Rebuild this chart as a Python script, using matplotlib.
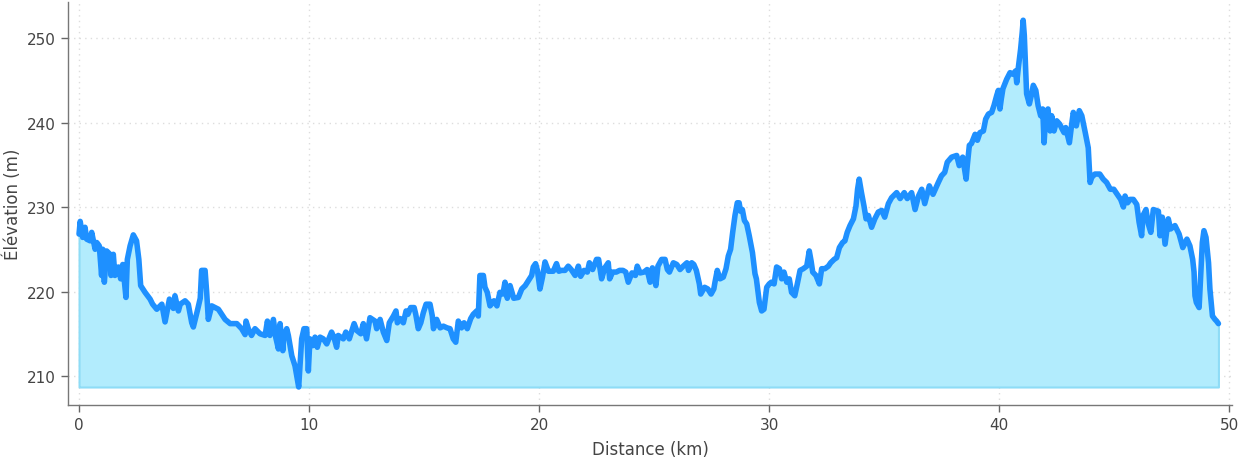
import matplotlib
matplotlib.use("Agg")
import matplotlib.pyplot as plt
import numpy as np

distance_km = [
    0.0, 0.05, 0.1, 0.16, 0.26, 0.33, 0.48, 0.55, 0.7, 0.77, 0.88, 0.98, 1.03, 1.1, 1.2, 1.35, 1.39, 1.49, 1.56,
    1.71, 1.81, 1.9, 2.04, 2.1, 2.22, 2.36, 2.5, 2.6, 2.68, 2.87, 3.09, 3.2, 3.38, 3.6, 3.74, 3.93, 4.1, 4.17,
    4.32, 4.4, 4.61, 4.75, 4.9, 4.97, 5.16, 5.27, 5.33, 5.48, 5.55, 5.62, 5.77, 6.06, 6.35, 6.57, 6.86, 7.07,
    7.22, 7.26, 7.36, 7.5, 7.65, 7.87, 8.09, 8.19, 8.3, 8.45, 8.55, 8.67, 8.74, 8.86, 8.9, 9.03, 9.1, 9.25,
    9.39, 9.55, 9.68, 9.78, 9.9, 9.97, 10.04, 10.16, 10.26, 10.36, 10.48, 10.62, 10.77, 10.98, 11.08, 11.2,
    11.27, 11.49, 11.6, 11.75, 11.96, 12.07, 12.25, 12.36, 12.5, 12.65, 12.87, 12.94, 13.09, 13.23, 13.38,
    13.49, 13.67, 13.78, 13.84, 13.96, 14.1, 14.22, 14.3, 14.42, 14.57, 14.64, 14.75, 14.86, 14.97, 15.09,
    15.26, 15.36, 15.41, 15.55, 15.7, 15.84, 16.0, 16.13, 16.27, 16.38, 16.49, 16.63, 16.74, 16.88, 17.03,
    17.14, 17.29, 17.36, 17.43, 17.58, 17.65, 17.75, 17.87, 18.04, 18.17, 18.3, 18.43, 18.52, 18.62, 18.74,
    18.9, 19.1, 19.25, 19.4, 19.54, 19.68, 19.75, 19.85, 19.93, 20.04, 20.15, 20.26, 20.41, 20.62, 20.76,
    20.86, 20.98, 21.13, 21.27, 21.4, 21.57, 21.71, 21.81, 21.96, 22.1, 22.19, 22.33, 22.5, 22.59, 22.72,
    22.86, 23.01, 23.07, 23.2, 23.36, 23.5, 23.65, 23.77, 23.88, 24.04, 24.19, 24.27, 24.4, 24.56, 24.7,
    24.83, 24.93, 25.08, 25.17, 25.33, 25.48, 25.58, 25.67, 25.84, 25.99, 26.13, 26.27, 26.43, 26.5, 26.64,
    26.73, 26.84, 26.97, 27.03, 27.2, 27.34, 27.48, 27.6, 27.65, 27.75, 27.87, 28.01, 28.13, 28.23, 28.33,
    28.42, 28.52, 28.62, 28.7, 28.76, 28.84, 28.93, 29.03, 29.14, 29.28, 29.39, 29.45, 29.58, 29.68, 29.78,
    29.9, 30.01, 30.1, 30.22, 30.33, 30.45, 30.55, 30.65, 30.77, 30.88, 30.98, 31.12, 31.23, 31.35, 31.49,
    31.64, 31.75, 31.83, 31.9, 32.04, 32.19, 32.29, 32.43, 32.58, 32.68, 32.83, 32.94, 33.06, 33.2, 33.3,
    33.4, 33.52, 33.67, 33.78, 33.85, 33.92, 34.02, 34.13, 34.22, 34.32, 34.46, 34.6, 34.75, 34.9, 35.03,
    35.19, 35.33, 35.55, 35.7, 35.88, 36.01, 36.2, 36.35, 36.5, 36.64, 36.77, 36.97, 37.13, 37.36, 37.5,
    37.64, 37.75, 37.94, 38.16, 38.27, 38.42, 38.57, 38.62, 38.71, 38.8, 38.96, 39.06, 39.17, 39.32, 39.42,
    39.54, 39.68, 39.78, 39.9, 39.97, 40.04, 40.1, 40.17, 40.33, 40.48, 40.62, 40.72, 40.77, 40.84, 40.94,
    41.01, 41.05, 41.1, 41.2, 41.32, 41.42, 41.49, 41.6, 41.7, 41.81, 41.9, 41.96, 42.04, 42.13, 42.22,
    42.29, 42.39, 42.51, 42.64, 42.75, 42.83, 42.9, 43.06, 43.17, 43.23, 43.36, 43.49, 43.6, 43.75, 43.88,
    43.96, 44.03, 44.17, 44.38, 44.53, 44.68, 44.84, 44.99, 45.14, 45.29, 45.41, 45.48, 45.59, 45.7, 45.84,
    45.99, 46.09, 46.2, 46.26, 46.39, 46.49, 46.6, 46.71, 46.93, 47.0, 47.1, 47.22, 47.36, 47.46, 47.65,
    47.83, 47.99, 48.17, 48.3, 48.42, 48.48, 48.52, 48.58, 48.7, 48.77, 48.84, 48.91, 49.0, 49.11, 49.17,
    49.28, 49.39, 49.46, 49.54,
]

elevation_m = [
    226.8, 228.3, 227.4, 226.4, 227.6, 226.2, 226.0, 227.0, 225.0, 225.8, 225.4, 221.9, 225.0, 221.1, 224.8, 224.4, 221.9, 224.4, 221.9,
    222.9, 221.5, 223.2, 219.3, 223.8, 225.4, 226.7, 226.0, 223.8, 220.7, 219.9, 219.1, 218.5, 217.9, 218.5, 216.4, 219.1, 218.0, 219.5,
    217.7, 218.5, 218.9, 218.5, 216.3, 215.8, 217.9, 219.2, 222.5, 222.5, 219.9, 216.7, 218.3, 217.9, 216.7, 216.2, 216.2, 215.6,
    214.9, 216.5, 215.6, 214.8, 215.6, 215.0, 214.8, 216.5, 214.8, 216.7, 214.6, 213.2, 216.2, 213.0, 214.6, 215.6, 214.8, 212.4,
    211.2, 208.7, 214.4, 215.6, 215.6, 210.6, 214.4, 213.6, 214.6, 213.4, 214.6, 214.4, 213.8, 215.2, 214.6, 213.4,
    214.8, 214.4, 215.2, 214.4, 216.2, 215.4, 215.0, 216.2, 214.4, 216.9, 216.5, 215.6, 216.7, 215.2, 214.2,
    216.3, 217.1, 217.7, 216.3, 216.8, 216.3, 217.7, 217.3, 218.1, 218.1, 217.3, 215.6, 216.3, 217.5, 218.5,
    218.5, 217.1, 215.6, 216.7, 215.7, 215.9, 215.7, 215.6, 214.4, 214.0, 216.5, 215.7, 216.3, 215.6, 216.8,
    217.3, 217.7, 217.1, 221.9, 221.9, 220.5, 219.9, 218.3, 218.9, 218.3, 219.9, 219.7, 221.1, 219.2, 220.7,
    219.2, 219.3, 220.3, 220.7, 221.3, 221.9, 222.9, 223.3, 222.5, 220.3, 221.7, 223.5, 222.4, 222.4, 223.3,
    222.4, 222.5, 222.5, 223.0, 222.6, 221.9, 223.0, 221.8, 222.5, 222.3, 223.4, 222.6, 223.8, 223.8, 221.5,
    222.8, 223.4, 221.5, 222.3, 222.3, 222.5, 222.5, 222.3, 221.1, 222.2, 221.9, 223.0, 222.2, 222.3, 222.6,
    221.1, 222.8, 220.7, 223.0, 223.8, 223.8, 222.6, 222.3, 223.4, 223.2, 222.6, 223.0, 223.4, 222.5, 223.4,
    223.2, 222.5, 220.9, 219.7, 220.5, 220.3, 219.7, 220.3, 221.1, 222.5, 221.5, 221.7, 222.7, 224.2, 225.0,
    227.0, 229.0, 230.5, 230.5, 229.5, 229.7, 228.4, 228.0, 226.6, 224.6, 222.1, 221.5, 218.7, 217.7, 217.9,
    220.5, 220.9, 221.1, 220.9, 222.9, 222.7, 221.5, 222.3, 221.1, 221.5, 219.9, 219.5, 220.9, 222.5, 222.7,
    223.0, 224.8, 223.6, 222.3, 221.9, 220.9, 222.7, 222.7, 223.0, 223.4, 223.8, 224.0, 225.2, 225.8, 226.0,
    227.0, 227.8, 228.6, 230.1, 232.1, 233.3, 231.7, 230.1, 228.6, 229.0, 227.6, 228.6, 229.4, 229.6, 228.8,
    230.4, 231.1, 231.7, 231.0, 231.7, 231.0, 231.7, 229.7, 231.3, 232.1, 230.4, 232.5, 231.5, 232.9, 233.7,
    234.1, 235.3, 235.9, 236.1, 234.9, 235.9, 233.3, 234.9, 237.3, 237.5, 238.6, 237.9, 238.8, 239.0, 240.4,
    241.0, 241.2, 242.0, 243.2, 243.8, 241.6, 242.8, 244.0, 245.1, 245.9, 245.7, 246.1, 244.7, 246.5, 248.7,
    250.7, 252.1, 250.3, 243.4, 242.2, 243.4, 244.4, 243.8, 242.0, 240.8, 241.6, 237.6, 241.2, 241.6, 239.0,
    240.8, 239.0, 240.2, 239.8, 239.2, 238.8, 239.4, 237.6, 240.0, 241.2, 239.6, 241.4, 240.8, 238.8, 237.0,
    232.9, 233.5, 233.9, 233.9, 233.3, 232.9, 232.1, 232.1, 231.5, 230.9, 230.0, 231.3, 230.5, 230.9, 230.9,
    230.3, 228.2, 226.6, 229.0, 229.7, 228.0, 227.0, 229.7, 229.5, 226.6, 228.8, 225.6, 228.6, 227.4, 227.8,
    226.8, 225.2, 226.2, 225.4, 223.8, 222.3, 219.5, 218.7, 218.1, 221.9, 225.8, 227.2, 226.4, 223.4, 220.3,
    217.1, 216.7, 216.5, 216.2,
]

x_ticks = [0, 10, 20, 30, 40, 50]
y_ticks = [210, 220, 230, 240, 250]

plt.rcParams['font.family'] = ['DejaVu Sans']
text_color = '#444444'

fig = plt.figure(figsize=(12.4, 4.6), dpi=100)
ax = fig.add_axes([68 / 1240, 54 / 460, (1232 - 68) / 1240, (406 - 3) / 460])

d = np.array(distance_km)
e = np.array(elevation_m)
base = e.min()

ax.fill_between(d, e, base, facecolor='#b2ecfd', edgecolor='#8edcf6', linewidth=1.5, zorder=2)
ax.plot(d, e, color='#1e90ff', linewidth=4.0, solid_joinstyle='round', solid_capstyle='round', zorder=3)

ax.set_xlim(-0.48, 50.13)
ax.set_ylim(206.57, 254.26)
ax.set_xticks(x_ticks)
ax.set_yticks(y_ticks)

ax.grid(True, linestyle=(0, (1, 3)), color='#dddddd', linewidth=1.0, zorder=0)
ax.set_axisbelow(True)

for side in ['top', 'right']:
    ax.spines[side].set_visible(False)
for side in ['left', 'bottom']:
    ax.spines[side].set_color('#777777')
    ax.spines[side].set_linewidth(1.0)

ax.tick_params(axis='both', direction='out', length=5, width=1.0, color='#666666',
               labelcolor=text_color, labelsize=11)
ax.set_xlabel('Distance (km)', fontsize=12, color=text_color, labelpad=6)
ax.set_ylabel('Élévation (m)', fontsize=12, color=text_color, labelpad=4)

fig.savefig('out.png', dpi=100)
